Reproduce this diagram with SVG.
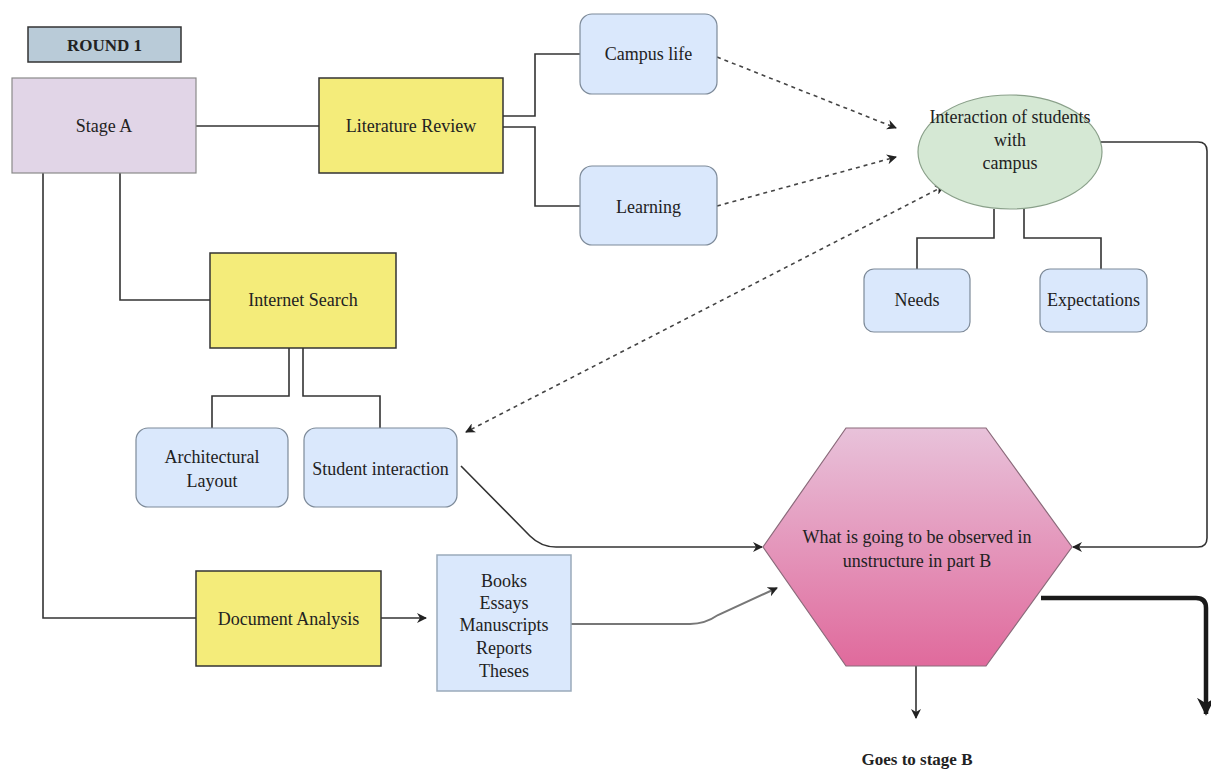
<svg xmlns="http://www.w3.org/2000/svg" width="1211" height="769" viewBox="0 0 1211 769">
  <style>
    text { font-family: "Liberation Serif", "Times New Roman", serif; font-size: 18px; fill: #222; text-anchor: middle; dominant-baseline: central; }
    .bold { font-weight: bold; font-size: 17px; }
    .purple { fill: #e1d5e7; stroke: #8a8a8a; stroke-width: 1.2; }
    .yellow { fill: #f4ec7a; stroke: #333; stroke-width: 1.5; }
    .blue { fill: #dae8fc; stroke: #7d8a99; stroke-width: 1.2; }
    .green { fill: #d5e8d4; stroke: #8aa08a; stroke-width: 1.2; }
    .line { fill: none; stroke: #333; stroke-width: 1.6; }
    .dash { fill: none; stroke: #444; stroke-width: 1.6; stroke-dasharray: 4 4; }
    .gray { fill: none; stroke: #777; stroke-width: 2; }
    .thick { fill: none; stroke: #1a1a1a; stroke-width: 4.5; }
  </style>
  <defs>
    <marker id="arrow" viewBox="0 0 10 10" refX="9" refY="5" markerWidth="10" markerHeight="10" markerUnits="userSpaceOnUse" orient="auto-start-reverse">
      <path d="M0,0 L10,5 L0,10 L3,5 Z" fill="#222"/>
    </marker>
    <marker id="arrowBig" viewBox="0 0 10 10" refX="9" refY="5" markerWidth="18" markerHeight="18" markerUnits="userSpaceOnUse" orient="auto">
      <path d="M0,0 L10,5 L0,10 L3,5 Z" fill="#1a1a1a"/>
    </marker>
    <linearGradient id="hexFill" x1="0" y1="0" x2="0" y2="1">
      <stop offset="0" stop-color="#e8c2da"/>
      <stop offset="1" stop-color="#e06a9c"/>
    </linearGradient>
  </defs>

  <rect width="1211" height="769" fill="#ffffff"/>

  <!-- connectors -->
  <g id="connectors">
    <path class="line" d="M196,126 H319"/>
    <path class="line" d="M503,116 H535 V54 H580"/>
    <path class="line" d="M503,127 H535 V206 H580"/>
    <path class="dash" d="M717,57 L896,128" marker-end="url(#arrow)"/>
    <path class="dash" d="M717,206 L896,157" marker-end="url(#arrow)"/>
    <path class="dash" d="M944,186 L466,432" marker-start="url(#arrow)" marker-end="url(#arrow)"/>
    <path class="line" d="M994,209 V238 H917 V269"/>
    <path class="line" d="M1024,209 V238 H1101 V269"/>
    <path class="line" d="M1101,142 H1198 Q1207,142 1207,151 V538 Q1207,547 1198,547 H1073" marker-end="url(#arrow)"/>
    <path class="line" d="M43,173 V618 H196"/>
    <path class="line" d="M120,173 V300 H210"/>
    <path class="line" d="M289,348 V396 H212 V428"/>
    <path class="line" d="M303,348 V396 H380 V428"/>
    <path class="line" d="M461,466 L530,536 Q541,547 556,547 H762" marker-end="url(#arrow)"/>
    <path class="line" d="M381,618 H426" marker-end="url(#arrow)"/>
    <path class="gray" d="M571,624 H690 Q705,624 718,615 L777,588" marker-end="url(#arrow)"/>
    <path class="line" d="M916,666 V718" marker-end="url(#arrow)"/>
    <path class="thick" d="M1041,598 H1196 Q1206,598 1206,608 V714" marker-end="url(#arrowBig)"/>
  </g>

  <g id="round1">
    <rect x="28" y="27" width="153" height="35" fill="#b9cbd8" stroke="#333" stroke-width="1.5"/>
    <text class="bold" x="104.5" y="45">ROUND 1</text>
  </g>

  <g id="stageA">
    <rect class="purple" x="12" y="78" width="184" height="95"/>
    <text x="104" y="126">Stage A</text>
  </g>

  <g id="literatureReview">
    <rect class="yellow" x="319" y="78" width="184" height="95"/>
    <text x="411" y="126">Literature Review</text>
  </g>

  <g id="campusLife">
    <rect class="blue" x="580" y="14" width="137" height="80" rx="12"/>
    <text x="648.5" y="54">Campus life</text>
  </g>

  <g id="learning">
    <rect class="blue" x="580" y="166" width="137" height="79" rx="12"/>
    <text x="648.5" y="207">Learning</text>
  </g>

  <g id="interaction">
    <ellipse class="green" cx="1010" cy="152" rx="92" ry="57"/>
    <text x="1010" y="117">Interaction of students</text>
    <text x="1010" y="140">with</text>
    <text x="1010" y="163">campus</text>
  </g>

  <g id="needs">
    <rect class="blue" x="864" y="269" width="106" height="63" rx="10"/>
    <text x="917" y="300">Needs</text>
  </g>

  <g id="expectations">
    <rect class="blue" x="1040" y="269" width="107" height="63" rx="10"/>
    <text x="1093.5" y="300">Expectations</text>
  </g>

  <g id="internetSearch">
    <rect class="yellow" x="210" y="253" width="186" height="95"/>
    <text x="303" y="300">Internet Search</text>
  </g>

  <g id="architecturalLayout">
    <rect class="blue" x="136" y="428" width="152" height="79" rx="12"/>
    <text x="212" y="457">Architectural</text>
    <text x="212" y="481">Layout</text>
  </g>

  <g id="studentInteraction">
    <rect class="blue" x="304" y="428" width="153" height="79" rx="12"/>
    <text x="380.5" y="469">Student interaction</text>
  </g>

  <g id="observed">
    <polygon points="846,428 986,428 1072,547 986,666 846,666 763,547" fill="url(#hexFill)" stroke="#8a6a7a" stroke-width="1.2"/>
    <text x="917" y="537">What is going to be observed in</text>
    <text x="917" y="561">unstructure in part B</text>
  </g>

  <g id="documentAnalysis">
    <rect class="yellow" x="196" y="571" width="185" height="95"/>
    <text x="288.5" y="619">Document Analysis</text>
  </g>

  <g id="sources">
    <rect x="437" y="555" width="134" height="136" fill="#dae8fc" stroke="#9aaabb" stroke-width="1.5"/>
    <text x="504" y="581">Books</text>
    <text x="504" y="603">Essays</text>
    <text x="504" y="625">Manuscripts</text>
    <text x="504" y="648">Reports</text>
    <text x="504" y="671">Theses</text>
  </g>

  <g id="goesToStageB">
    <text class="bold" x="917" y="759">Goes to stage B</text>
  </g>
</svg>
